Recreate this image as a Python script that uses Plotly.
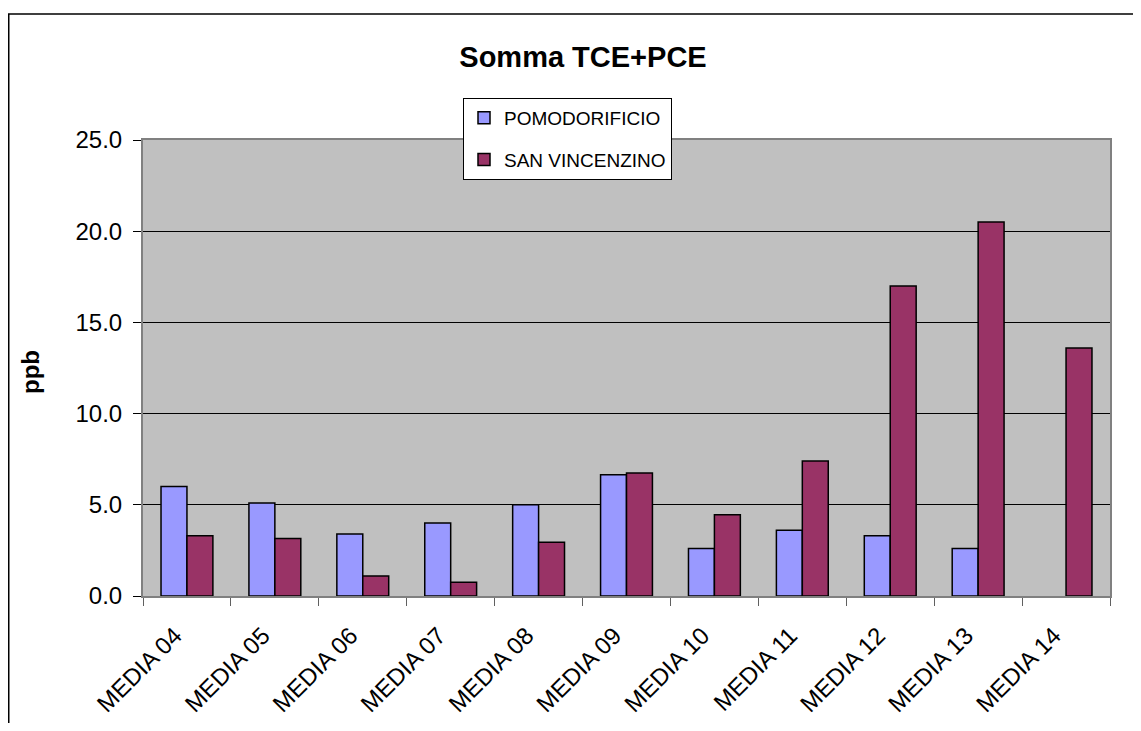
import plotly.graph_objects as go

categories = ["MEDIA 04", "MEDIA 05", "MEDIA 06", "MEDIA 07", "MEDIA 08", "MEDIA 09",
              "MEDIA 10", "MEDIA 11", "MEDIA 12", "MEDIA 13", "MEDIA 14"]
pomodorificio = [6.0, 5.1, 3.4, 4.0, 5.0, 6.65, 2.6, 3.6, 3.3, 2.6, None]
san_vincenzino = [3.3, 3.15, 1.1, 0.75, 2.95, 6.75, 4.45, 7.4, 17.0, 20.5, 13.6]
y_ticks = [0, 5, 10, 15, 20, 25]
y_tick_text = ["0.0", "5.0", "10.0", "15.0", "20.0", "25.0"]

FONT = "Liberation Sans, Arial, sans-serif"
OFF = 8  # page body margin
W, H = 1141 - 2 * OFF, 731 - 2 * OFF
# plot area in screen pixels: left 143, right 1110, top 140, bottom 596
L = 143 - OFF
T = 140 - OFF
R = W - (1110 - OFF)
B = H - (596 - OFF)
pw, ph = W - L - R, H - T - B


def px_x(sx):
    return (sx - OFF - L) / pw


def px_y(sy):
    return (H - B - (sy - OFF)) / ph


fig = go.Figure()
fig.add_trace(go.Bar(name="POMODORIFICIO", x=categories, y=pomodorificio,
                     marker=dict(color="#9999FF", line=dict(color="black", width=1.5)),
                     legendgroup="a"))
fig.add_trace(go.Bar(name="SAN VINCENZINO", x=categories, y=san_vincenzino,
                     marker=dict(color="#993366", line=dict(color="black", width=1.5)),
                     legendgroup="b"))

fig.update_layout(
    width=W, height=H,
    margin=dict(l=L, r=R, t=T, b=B, autoexpand=False),
    paper_bgcolor="white",
    plot_bgcolor="#C0C0C0",
    barmode="group", bargap=0.41, bargroupgap=0,
    font=dict(family=FONT, color="black", size=24),
    title=dict(text="<b>Somma TCE+PCE</b>", x=(583 - OFF) / W, y=1 - (57 - OFF) / H,
               xanchor="center", yanchor="middle",
               font=dict(family=FONT, size=29, color="black")),
    showlegend=True,
    legend=dict(x=px_x(463), y=px_y(98), xanchor="left", yanchor="top",
                bgcolor="white", bordercolor="black", borderwidth=1,
                font=dict(family=FONT, size=19, color="black"),
                traceorder="grouped", tracegroupgap=14,
                itemwidth=30),
    xaxis=dict(type="category", tickson="boundaries", ticks="outside", ticklen=8,
               tickcolor="#606060", tickwidth=1,
               showline=True, linecolor="#808080", linewidth=2, mirror=True,
               tickangle=-45, tickfont=dict(family=FONT, size=24),
               ticklabelstandoff=14, ticklabelshift=-12,
               showgrid=False),
    yaxis=dict(range=[0, 25], tickvals=y_ticks, ticktext=y_tick_text,
               ticks="outside", ticklen=8, tickcolor="black", tickwidth=1,
               showline=True, linecolor="#808080", linewidth=2, mirror=True,
               showgrid=True, gridcolor="black", gridwidth=1,
               ticklabelstandoff=6,
               tickfont=dict(family=FONT, size=24), zeroline=False),
    annotations=[dict(text="<b>ppb</b>", x=px_x(30), y=px_y(372), xref="paper", yref="paper",
                      xanchor="center", yanchor="middle", textangle=-90, showarrow=False,
                      font=dict(family=FONT, size=24, color="black"))],
    shapes=[dict(type="rect", xref="paper", yref="paper",
                 x0=px_x(OFF + 0.75), x1=px_x(1141 + 30), y0=px_y(731 + 30), y1=px_y(14),
                 line=dict(color="black", width=1.5), fillcolor="rgba(0,0,0,0)",
                 layer="above")],
)

fig.write_html("out.html")
